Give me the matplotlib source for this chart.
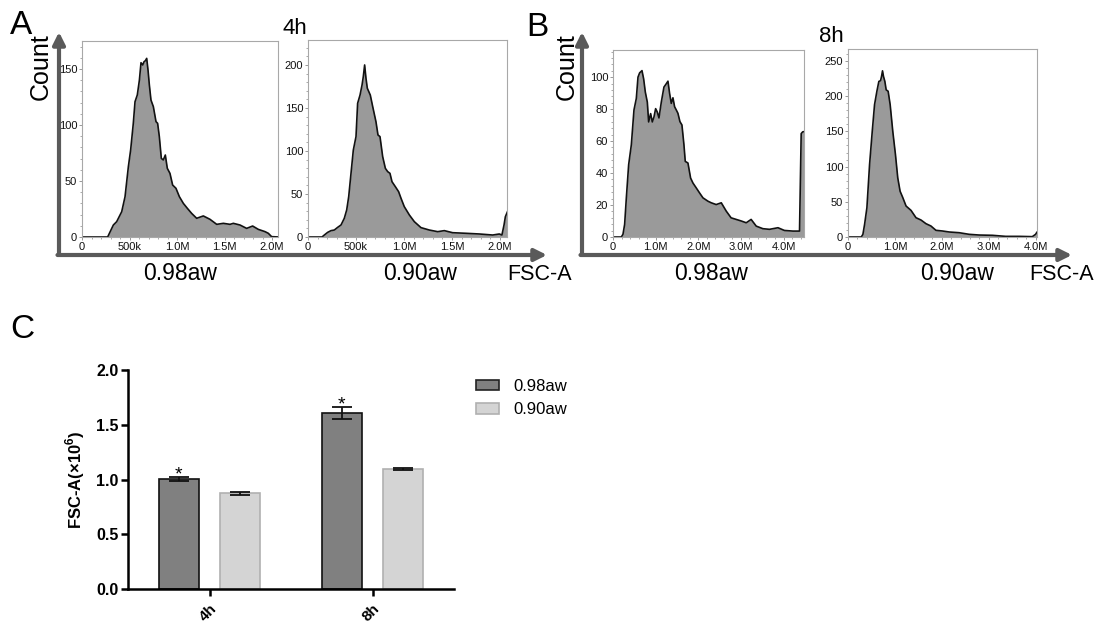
import numpy as np
import matplotlib
matplotlib.use("Agg")
import matplotlib.pyplot as plt
from matplotlib.ticker import AutoMinorLocator
from matplotlib.patches import Patch

plt.rcParams['font.family'] = ['Liberation Sans', 'DejaVu Sans']
plt.rcParams['mathtext.fontset'] = 'custom'
plt.rcParams['mathtext.bf'] = 'Liberation Sans:bold'
plt.rcParams['mathtext.rm'] = 'Liberation Sans'

W, H = 1100, 622

# histogram traces: FSC-A in millions, count
fsc_4h_098 = [0, 0.27, 0.33, 0.365, 0.418, 0.453, 0.488, 0.512, 0.54, 0.558, 0.582, 0.604,
              0.621, 0.639, 0.653, 0.667, 0.681, 0.695, 0.709, 0.726, 0.751, 0.779, 0.796,
              0.814, 0.835, 0.856, 0.877, 0.898, 0.926, 0.954, 0.989, 1.025, 1.067, 1.109,
              1.154, 1.207, 1.277, 1.347, 1.418, 1.488, 1.558, 1.593, 1.663, 1.733, 1.796,
              1.856, 1.926, 1.961, 1.996, 2.08]
cnt_4h_098 = [0, 0, 10.7, 13.7, 22.6, 36, 62.8, 77.7, 101.5, 120.8, 126.8, 140,
              155.6, 153.6, 156.5, 157.4, 159.5, 149, 135.7, 122.3, 116.4, 103, 101.5,
              89.6, 70.2, 68.8, 73.2, 61.3, 56.8, 46.4, 43.5, 36, 30, 25.6,
              21.1, 16.7, 18.8, 15.8, 11.3, 12.2, 11.3, 12.2, 10.7, 7.7, 9.8,
              6.8, 4.8, 3.3, 0.3, 0]

fsc_4h_090 = [0, 0.146, 0.17, 0.205, 0.24, 0.274, 0.309, 0.344, 0.378, 0.403, 0.424, 0.448,
              0.472, 0.5, 0.517, 0.542, 0.563, 0.576, 0.59, 0.604, 0.618, 0.649, 0.674,
              0.708, 0.729, 0.75, 0.778, 0.806, 0.83, 0.854, 0.875, 0.91, 0.944, 0.969,
              1.003, 1.056, 1.108, 1.177, 1.264, 1.351, 1.42, 1.507, 1.646, 1.785, 1.924,
              1.993, 2.02, 2.042, 2.056, 2.08]
cnt_4h_090 = [0, 0, 2.3, 5.4, 7.4, 8.1, 11.2, 14, 21.7, 31.4, 46.9, 74,
              101, 116.7, 155.4, 165, 176.7, 186.4, 200, 184.5, 172.9, 165, 151.6,
              134, 118.6, 116.7, 93.4, 79.8, 76, 74, 64.3, 58.5, 52.7, 45,
              35.3, 25.6, 17.8, 10.9, 8.1, 6.2, 7.4, 5, 4.3, 3.5, 2.3,
              3.5, 2.3, 14, 23.6, 30]

fsc_8h_098 = [0, 0.195, 0.234, 0.273, 0.313, 0.367, 0.43, 0.492, 0.547, 0.586, 0.625, 0.68,
              0.719, 0.758, 0.805, 0.836, 0.883, 0.922, 0.961, 1.0, 1.039, 1.078, 1.133,
              1.195, 1.25, 1.289, 1.328, 1.367, 1.406, 1.445, 1.484, 1.523, 1.57, 1.617,
              1.664, 1.695, 1.758, 1.82, 1.875, 1.953, 2.03, 2.11, 2.227, 2.305, 2.42,
              2.54, 2.656, 2.77, 2.89, 3.01, 3.125, 3.24, 3.36, 3.516, 3.67, 3.87, 4.02,
              4.22, 4.375, 4.414, 4.45, 4.5]
cnt_8h_098 = [0, 0, 1.7, 7.9, 24.5, 45.2, 57.7, 79.5, 86.7, 100, 102.7, 104.1,
              98.9, 90.7, 84.4, 72, 77.2, 72, 75.1, 80.3, 78.2, 74.5, 84.4,
              93.8, 95.9, 97.5, 89.8, 83.6, 87.1, 81.5, 79.5, 77.4, 72.2, 70.1,
              57.7, 47.3, 46.3, 36.9, 33.8, 30.7, 27.6, 24.5, 22.4, 21.4, 20.3,
              21.4, 16.2, 12, 11, 10, 8.9, 11, 6.8, 5.2, 4.8, 5.8, 4.1,
              3.7, 3.7, 64.7, 65.8, 66]

fsc_8h_090 = [0, 0.283, 0.318, 0.354, 0.403, 0.46, 0.517, 0.566, 0.616, 0.658, 0.694, 0.715,
              0.736, 0.757, 0.786, 0.814, 0.856, 0.899, 0.955, 1.012, 1.061, 1.111, 1.168,
              1.238, 1.344, 1.45, 1.557, 1.663, 1.769, 1.875, 2.017, 2.159, 2.37, 2.583,
              2.795, 3.08, 3.36, 3.65, 3.93, 4.0, 4.03, 4.06]
cnt_8h_090 = [0, 0, 3.8, 18, 41.6, 103, 150, 188, 207, 221, 222, 228,
              236, 228, 221, 209, 207, 188, 150, 117, 84, 65, 56,
              44, 37.8, 27.4, 24.1, 18.9, 15.6, 9.5, 8.5, 7.1, 6.1, 3.8,
              2.8, 2.4, 0.9, 0.9, 0.5, 3.8, 7, 8]

ticks_2m = [0, 0.5, 1.0, 1.5, 2.0]
ticklabels_2m = ["0", "500k", "1.0M", "1.5M", "2.0M"]
ticks_4m = [0, 1, 2, 3, 4]
ticklabels_4m = ["0", "1.0M", "2.0M", "3.0M", "4.0M"]

# bar chart (panel C)
groups = ["4h", "8h"]
conditions = ["0.98aw", "0.90aw"]
mean_098 = [1.005, 1.605]
err_098 = [0.022, 0.057]
mean_090 = [0.874, 1.096]
err_090 = [0.016, 0.006]
sig_098 = ["*", "*"]


def px_axes(fig, x0, y0, x1, y1):
    return fig.add_axes([x0 / W, 1 - y1 / H, (x1 - x0) / W, (y1 - y0) / H])


def draw_hist(ax, x, y, xmax, ymax, xt, xtl, yt):
    ax.fill_between(x, y, color='#9a9a9a', lw=0)
    ax.plot(x, y, color='#111111', lw=1.2)
    ax.set_xlim(0, xmax)
    ax.set_ylim(0, ymax)
    ax.set_xticks(xt)
    ax.set_xticklabels(xtl)
    ax.set_yticks(yt)
    ax.xaxis.set_minor_locator(AutoMinorLocator(5))
    ax.yaxis.set_minor_locator(AutoMinorLocator(5))
    ax.tick_params(which='both', labelsize=8, colors='#888888', labelcolor='#111111',
                   direction='out', pad=1)
    ax.tick_params(which='major', length=2.5, width=0.6)
    ax.tick_params(which='minor', length=1.5, width=0.5)
    for s in ax.spines.values():
        s.set_color('#a8a8a8')
        s.set_linewidth(0.8)


fig = plt.figure(figsize=(W / 100, H / 100), dpi=100)

a1 = px_axes(fig, 82, 41, 278, 237)
draw_hist(a1, fsc_4h_098, cnt_4h_098, 2.063, 175, ticks_2m, ticklabels_2m, [0, 50, 100, 150])
a2 = px_axes(fig, 308, 40, 507, 237)
draw_hist(a2, fsc_4h_090, cnt_4h_090, 2.073, 229, ticks_2m, ticklabels_2m, [0, 50, 100, 150, 200])
b1 = px_axes(fig, 613, 50, 804, 237)
draw_hist(b1, fsc_8h_098, cnt_8h_098, 4.48, 117, ticks_4m, ticklabels_4m, [0, 20, 40, 60, 80, 100])
b2 = px_axes(fig, 848, 49, 1037, 237)
draw_hist(b2, fsc_8h_090, cnt_8h_090, 4.03, 267, ticks_4m, ticklabels_4m, [0, 50, 100, 150, 200, 250])

# panel C
axc = px_axes(fig, 128, 370, 454, 589)
xg = np.arange(len(groups))
bw = 0.25
off = 0.1875
ekw = dict(lw=1.3, capthick=1.3, ecolor='#111111')
axc.bar(xg - off, mean_098, bw, yerr=err_098, color='#808080', edgecolor='#111111',
        lw=1.2, capsize=7.5, error_kw=ekw)
axc.bar(xg + off, mean_090, bw, yerr=err_090, color='#d4d4d4', edgecolor='#b0b0b0',
        lw=1.2, capsize=7.5, error_kw=ekw)
for xi, m, e, s in zip(xg - off, mean_098, err_098, sig_098):
    axc.annotate(s, (xi, m + e), xytext=(0, -2), textcoords='offset points',
                 ha='center', va='baseline', fontsize=14)
axc.set_xlim(-0.5, 1.5)
axc.set_ylim(0, 2.0)
axc.set_yticks([0, 0.5, 1.0, 1.5, 2.0])
axc.set_yticklabels([f"{v:.1f}" for v in [0, 0.5, 1.0, 1.5, 2.0]], fontweight='bold', fontsize=11.5)
axc.set_xticks(xg)
axc.set_xticklabels(groups, rotation=45, ha='right', va='top', rotation_mode='anchor',
                    fontweight='bold', fontsize=11)
axc.spines['top'].set_visible(False)
axc.spines['right'].set_visible(False)
for s in ['left', 'bottom']:
    axc.spines[s].set_linewidth(1.8)
axc.tick_params(width=1.8, length=5, direction='out', pad=2)
axc.tick_params(axis='x', pad=4)
axc.set_ylabel("FSC-A(×10$^{\\mathbf{6}}$)", fontweight='bold', fontsize=12)
axc.yaxis.set_label_coords(-0.125, 0.5)

handles = [Patch(facecolor='#808080', edgecolor='#222222', lw=1.2),
           Patch(facecolor='#d4d4d4', edgecolor='#b0b0b0', lw=1.2)]
fig.legend(handles, conditions, loc='upper left', bbox_to_anchor=(476 / W, 1 - 379 / H),
           frameon=False, fontsize=12, borderpad=0, borderaxespad=0,
           handlelength=1.4, handleheight=0.6, handletextpad=0.85, labelspacing=0.5)

# overlay for arrows and panel text, in pixel coordinates
ov = fig.add_axes([0, 0, 1, 1])
ov.set_xlim(0, W)
ov.set_ylim(H, 0)
ov.axis('off')
arrow = dict(arrowstyle='-|>', color='#5a5a5a', lw=3, mutation_scale=18, shrinkA=0, shrinkB=0)
for x0, x1 in [(59, 547), (582, 1072)]:
    ov.annotate("", xy=(x0, 32), xytext=(x0, 255), arrowprops=arrow)
    ov.annotate("", xy=(x1, 255), xytext=(x0 - 1.5, 255), arrowprops=arrow)

ov.text(21, 26, "A", fontsize=24, ha='center', va='center')
ov.text(537, 27, "B", fontsize=24, ha='center', va='center')
ov.text(22, 329, "C", fontsize=24, ha='center', va='center')
ov.text(41, 67, "Count", fontsize=18, rotation=90, ha='center', va='center')
ov.text(567, 67, "Count", fontsize=18, rotation=90, ha='center', va='center')
ov.text(295, 28, "4h", fontsize=16, ha='center', va='center')
ov.text(831, 36, "8h", fontsize=16, ha='center', va='center')
for xc, lab in [(180, "0.98aw"), (420, "0.90aw"), (711, "0.98aw"), (957, "0.90aw")]:
    ov.text(xc, 273, lab, fontsize=16.5, ha='center', va='center')
ov.text(540, 274, "FSC-A", fontsize=15.5, ha='center', va='center')
ov.text(1062, 274, "FSC-A", fontsize=15.5, ha='center', va='center')

fig.savefig("out.png", dpi=100)
